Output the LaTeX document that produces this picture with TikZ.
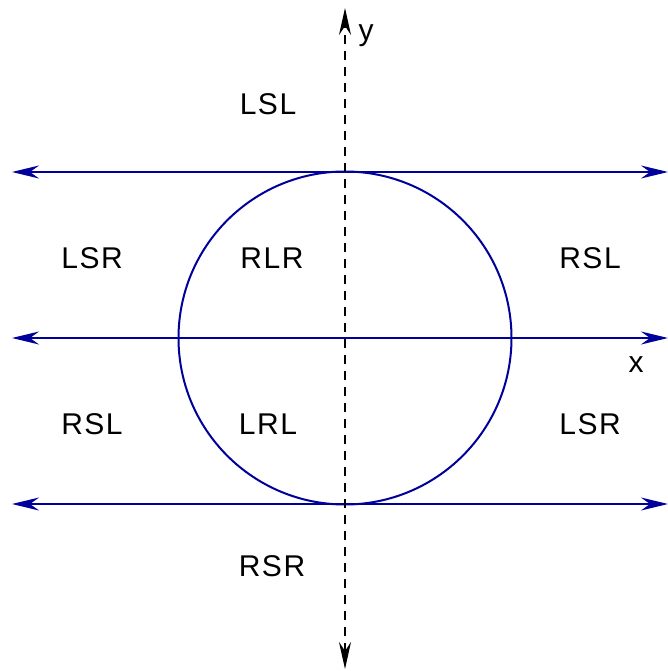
\documentclass[tikz,border=0pt]{standalone}
\usepackage{fontspec}
\setmainfont{Liberation Sans}[LetterSpace=5]
\usetikzlibrary{arrows.meta}
\definecolor{lineblue}{RGB}{0,0,155}
\begin{document}
\begin{tikzpicture}[x=1pt,y=1pt,
  tip/.style={Stealth[length=27pt,width=13pt,inset=9pt]},
  hline/.style={draw=lineblue,line width=2pt,{Stealth[length=27pt,width=13pt,inset=9pt]}-{Stealth[length=27pt,width=13pt,inset=9pt]}},
  vline/.style={draw=black,line width=1.3pt,dash pattern=on 9pt off 7pt,{Stealth[length=27pt,width=12pt,inset=9pt]}-{Stealth[length=27pt,width=12pt,inset=9pt]}},
  lbl/.style={font=\fontsize{30}{34}\selectfont,inner sep=0pt}]
\useasboundingbox (0,0) rectangle (668,-671);
\coordinate (c) at (345,-338);
\draw[lineblue,line width=2pt] (c) circle (166.5);
\coordinate (t1l) at (12,-172); \coordinate (t1r) at (668,-172);
\coordinate (t2l) at (12,-338); \coordinate (t2r) at (668,-338);
\coordinate (t3l) at (12,-504); \coordinate (t3r) at (668,-504);
\coordinate (vt) at (345,-8); \coordinate (vb) at (345,-669);
\draw[hline] (t1l) -- (t1r);
\draw[hline] (t2l) -- (t2r);
\draw[hline] (t3l) -- (t3r);
\draw[vline] (vb) -- (vt);
\node[lbl] (ylab) at (366,-36) {y};
\node[lbl] (xlab) at (636,-365) {x};
\node[lbl] (n1) at (268,-104) {LSL};
\node[lbl] (n2) at (92,-258) {LSR};
\node[lbl] (n3) at (272,-258) {RLR};
\node[lbl] (n4) at (590,-258) {RSL};
\node[lbl] (n5) at (92,-424) {RSL};
\node[lbl] (n6) at (268,-424) {LRL};
\node[lbl] (n7) at (590,-424) {LSR};
\node[lbl] (n8) at (272,-566) {RSR};
\end{tikzpicture}
\end{document}
